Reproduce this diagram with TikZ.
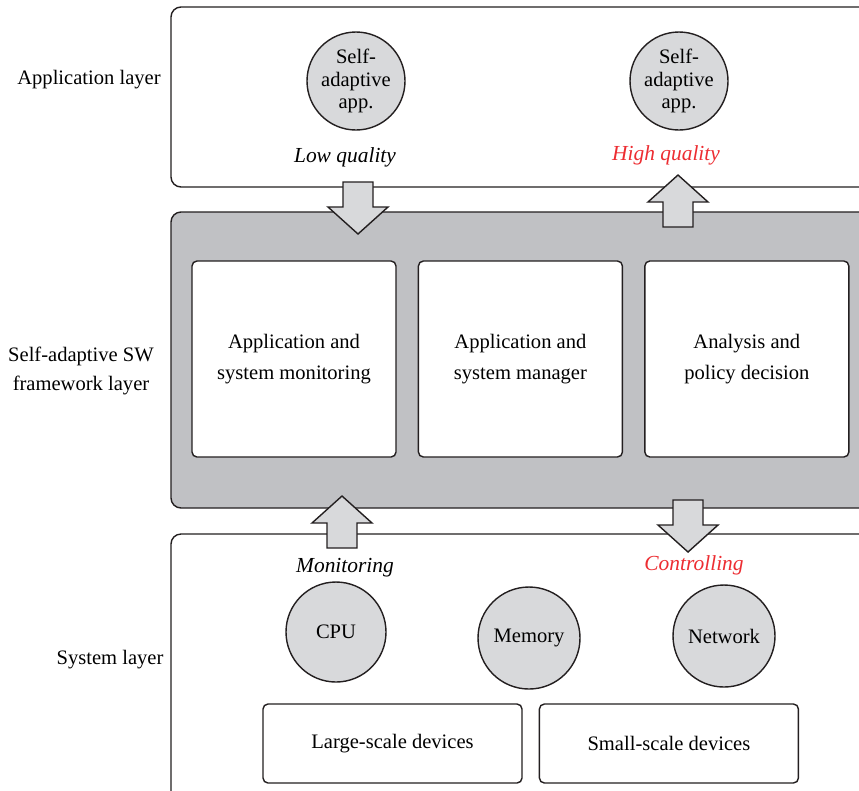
\documentclass[tikz,border=0pt]{standalone}
\usepackage{fontspec}
\setmainfont{Liberation Serif}
\usepackage{tikz}
\usetikzlibrary{positioning}
\usepackage{xcolor}
\definecolor{swline}{RGB}{35,31,32}
\definecolor{swgray}{RGB}{192,193,196}
\definecolor{swlight}{RGB}{216,217,219}
\definecolor{swred}{RGB}{237,45,50}
\tikzstyle{layer} = [draw=swline, line width=0.8pt, rounded corners=2mm]
\tikzstyle{module} = [rectangle, rounded corners=1mm, minimum width=40.8mm, minimum height=39.2mm, text centered, align=center, draw=swline, fill=white, line width=0.8pt, font=\fontsize{11.7}{17.5}\selectfont]
\tikzstyle{device} = [rectangle, rounded corners=1mm, minimum width=51.8mm, minimum height=15.8mm, draw=swline, fill=white, line width=0.8pt, font=\fontsize{11.7}{14}\selectfont]
\tikzstyle{resource} = [circle, draw=swline, fill=swlight, line width=0.8pt, minimum size=20.4mm, inner sep=0pt, align=center, font=\fontsize{11.7}{14}\selectfont]
\tikzstyle{app} = [resource, minimum size=19.6mm, font=\fontsize{11.7}{13}\selectfont]
\tikzstyle{flow} = [draw=swline, fill=swlight, line width=0.8pt, line join=miter]
\tikzstyle{note} = [font=\fontsize{12.2}{14}\selectfont\itshape]
\tikzstyle{layername} = [align=center, font=\fontsize{11.7}{16}\selectfont]
% block arrow between two layers: tail x, tail y, 1 = down / -1 = up
\newcommand{\layerflow}[3]{%
  \draw[flow] (#1,#2) ++(-15,0) -- ++(0,#3*25) -- ++(-15,0) -- ++(30,#3*27)
    -- ++(30,-#3*27) -- ++(-15,0) -- ++(0,-#3*25) -- cycle;}

\begin{document}
\begin{tikzpicture}[x=0.2mm, y=-0.2mm]
    \clip (0,0) rectangle (859,790);
    \fill[white] (0,0) rectangle (859,790);

    % layers
    \draw[layer] (171,7) rectangle (900,187);
    \draw[layer, fill=swgray] (171,212) rectangle (900,508);
    \draw[layer] (171,534) rectangle (900,820);

    \node[layername] (lapp) at (89,80) {Application layer};
    \node[layername] (lfw) at (81,371) {Self-adaptive SW\\framework layer};
    \node[layername] (lsys) at (110,660) {System layer};

    % application layer
    \node[app] (app1) at (356,81) {Self-\\adaptive\\app.};
    \node[app] (app2) at (679,81) {Self-\\adaptive\\app.};
    \node[note] (low) at (345,157) {Low quality};
    \node[note, text=swred] (high) at (666,155) {High quality};

    % framework modules
    \node[module] (mon) at (294,359) {Application and\\system monitoring};
    \node[module, right=4.2mm of mon] (mgr) {Application and\\system manager};
    \node[module, right=4.2mm of mgr] (pol) {Analysis and\\policy decision};

    % system layer
    \node[note] (monit) at (345,568) {Monitoring};
    \node[note, text=swred] (ctrl) at (694,565) {Controlling};
    \node[resource, minimum size=20mm] (cpu) at (336,632) {CPU};
    \node[resource] (mem) at (529,638) {Memory};
    \node[resource] (net) at (724,636) {Network};
    \node[device] (large) at (392.5,743.5) {Large-scale devices};
    \node[device, right=3.2mm of large] (small) {Small-scale devices};

    % arrows
    \layerflow{358}{182}{1}
    \layerflow{678}{227}{-1}
    \layerflow{342}{548}{-1}
    \layerflow{688}{500}{1}
\end{tikzpicture}
\end{document}
